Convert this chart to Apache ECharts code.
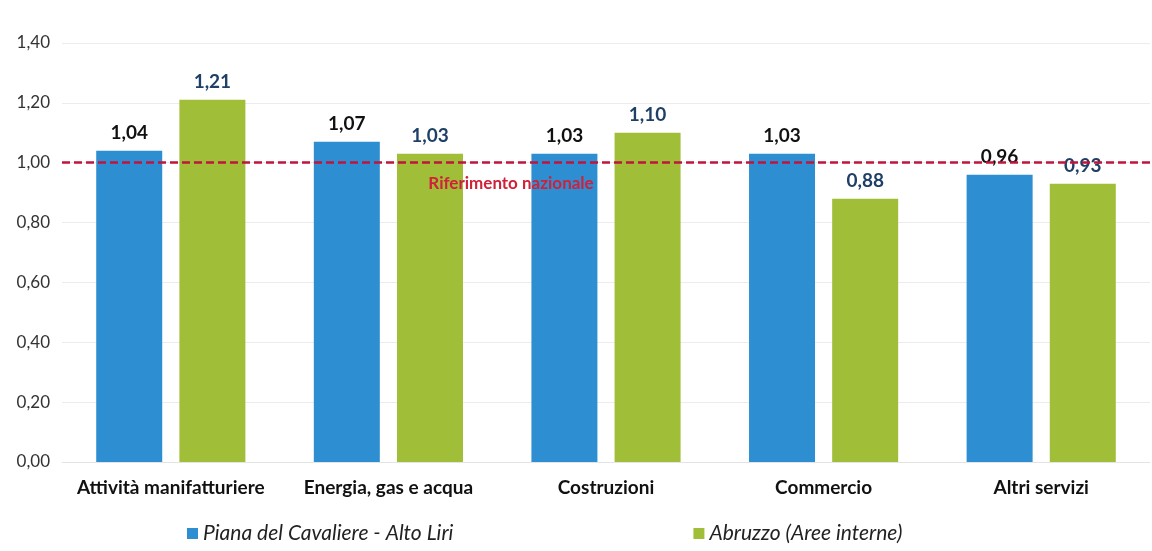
<!DOCTYPE html>
<html>
<head>
<meta charset="utf-8">
<script src="https://cdn.jsdelivr.net/npm/echarts@6/dist/echarts.min.js"></script>
<style>
  html, body { margin: 0; padding: 0; background: #fff; }
  #chart { width: 1152px; height: 551px; }
</style>
</head>
<body>
<div id="chart"></div>
<script>
// dati
const categories = ['Attività manifatturiere', 'Energia, gas e acqua', 'Costruzioni', 'Commercio', 'Altri servizi'];
const seriesNames = ['Piana del Cavaliere - Alto Liri', 'Abruzzo (Aree interne)'];
const pianaValues = [1.04, 1.07, 1.03, 1.03, 0.96];
const abruzzoValues = [1.21, 1.03, 1.10, 0.88, 0.93];
const referenceValue = 1.0;
const referenceLabel = 'Riferimento nazionale';

const fmt = v => v.toFixed(2).replace('.', ',');
const font = 'Lato, "Open Sans", sans-serif';

let option = {
    animation: false,
    textStyle: { fontFamily: font },
    grid: { left: 62, right: 2, top: 43, bottom: 89 },
    legend: {
        left: 182,
        bottom: 2,
        itemWidth: 11,
        itemHeight: 11,
        itemGap: 240,
        icon: 'rect',
        textStyle: { fontSize: 21, fontStyle: 'italic', color: '#222', fontFamily: font },
        data: seriesNames
    },
    xAxis: {
        type: 'category',
        data: categories,
        axisTick: { show: false },
        axisLine: { lineStyle: { color: '#e4e4e4' } },
        axisLabel: { interval: 0, hideOverlap: false, fontSize: 19, fontWeight: 'bold', color: '#111', margin: 16 }
    },
    yAxis: {
        type: 'value',
        min: 0,
        max: 1.4,
        interval: 0.2,
        axisLabel: { fontSize: 17, color: '#333', margin: 12, formatter: v => fmt(v), align: 'right' },
        splitLine: { lineStyle: { color: '#ececec' } }
    },
    series: [{
        name: seriesNames[0],
        type: 'bar',
        data: pianaValues,
        barWidth: 66,
        barGap: '26%',
        itemStyle: { color: '#2d8fd1' },
        label: {
            show: true, position: 'top', distance: 8,
            fontSize: 19, fontWeight: 'bold', color: '#111',
            formatter: p => fmt(p.value)
        },
        markLine: {
            silent: true,
            symbol: 'none',
            lineStyle: { color: '#c0143c', width: 2.5, type: [8, 4] },
            label: {
                position: 'insideMiddleBottom',
                formatter: referenceLabel,
                color: '#d0203a',
                fontSize: 17,
                fontWeight: 'bold',
                padding: [0, 190, 0, 0],
                distance: 12
            },
            data: [{ yAxis: referenceValue }]
        }
    }, {
        name: seriesNames[1],
        type: 'bar',
        data: abruzzoValues,
        barWidth: 66,
        itemStyle: { color: '#a0be38' },
        label: {
            show: true, position: 'top', distance: 8,
            fontSize: 19, fontWeight: 'bold', color: '#1f3f66',
            formatter: p => fmt(p.value)
        }
    }]
};
var myChart = echarts.init(document.getElementById('chart'));
myChart.setOption(option);
</script>
</body>
</html>
